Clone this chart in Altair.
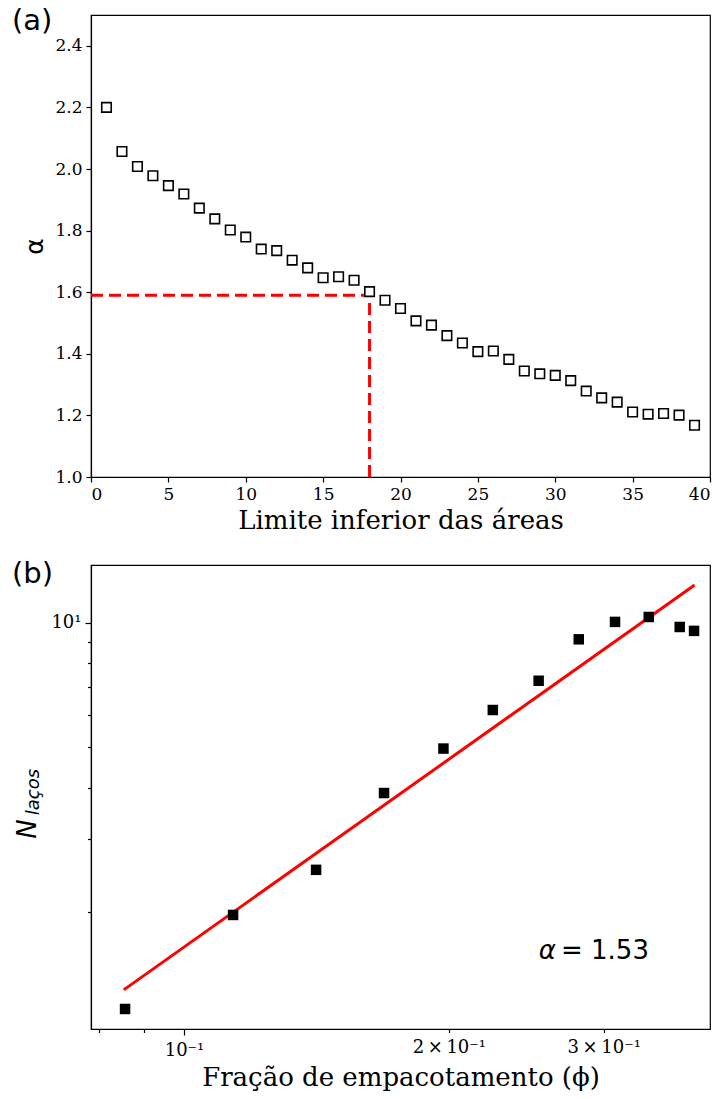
import altair as alt
import pandas as pd

# ---------------- panel (a) data ----------------
lim_inf = list(range(1, 40))
alpha_vals = [2.200, 2.057, 2.008, 1.978, 1.946, 1.919, 1.873, 1.838, 1.802, 1.779,
              1.740, 1.735, 1.704, 1.679, 1.647, 1.650, 1.639, 1.602, 1.574, 1.547,
              1.507, 1.493, 1.459, 1.435, 1.407, 1.409, 1.382, 1.344, 1.335, 1.330,
              1.313, 1.279, 1.257, 1.243, 1.211, 1.204, 1.206, 1.201, 1.168]
cut_x = 18
cut_alpha = 1.59
alpha_min = 1.0
x_ticks_a = [0, 5, 10, 15, 20, 25, 30, 35, 40]
y_ticks_a = [1.0, 1.2, 1.4, 1.6, 1.8, 2.0, 2.2, 2.4]

# ---------------- panel (b) data ----------------
phi = [0.0857, 0.1137, 0.1413, 0.1688, 0.1972, 0.2244, 0.253, 0.281, 0.309, 0.3375, 0.366, 0.380]
n_lacos = [1.166, 1.968, 2.53, 3.88, 4.97, 6.16, 7.25, 9.13, 10.06, 10.34, 9.78, 9.57]
fit_phi = [0.0854, 0.3806]
fit_n = [1.297, 12.36]
x_ticks_b = [0.08, 0.09, 0.1, 0.2, 0.3]
y_ticks_b = [2, 3, 4, 5, 6, 7, 8, 9, 10]

W = 619
HA = 462
HB = 464

df_a = pd.DataFrame({"x": lim_inf, "y": alpha_vals})
df_h = pd.DataFrame({"x": [0], "x2": [cut_x], "y": [cut_alpha]})
df_v = pd.DataFrame({"x": [cut_x], "y": [alpha_min], "y2": [cut_alpha]})

xa = alt.X("x:Q", scale=alt.Scale(domain=[0, 40], nice=False, zero=False),
           axis=alt.Axis(values=x_ticks_a, title="Limite inferior das áreas", format="d",
                         tickSize=5, labelPadding=4, titlePadding=5))
ya = alt.Y("y:Q", scale=alt.Scale(domain=[1.0, 2.5], nice=False, zero=False),
           axis=alt.Axis(values=y_ticks_a, format=".1f", title="α", titleFont="DejaVu Sans",
                         titleFontSize=25, titleAngle=270, titleX=-57, titleY=HA / 2,
                         titleBaseline="middle", titleAlign="center", tickSize=5, labelPadding=4))

rule_style = dict(color="red", strokeWidth=3, strokeDash=[12, 6])
hline = alt.Chart(df_h).mark_rule(**rule_style).encode(x=xa, x2="x2:Q", y=ya)
vline = alt.Chart(df_v).mark_rule(**rule_style).encode(x=xa, y=ya, y2="y2:Q")
pts_a = alt.Chart(df_a).mark_square(size=90, fill="white", stroke="black",
                                    strokeWidth=1.6, opacity=1).encode(x=xa, y=ya)
lab_a = alt.Chart(pd.DataFrame({"t": ["(a)"]})).mark_text(
    font="DejaVu Sans", fontSize=29, align="left", baseline="middle", color="black"
).encode(x=alt.value(-79), y=alt.value(6), text="t:N")

top = alt.layer(hline, vline, pts_a, lab_a).properties(width=W, height=HA)

# ---------------- panel (b) ----------------
df_b = pd.DataFrame({"x": phi, "y": n_lacos})
df_fit = pd.DataFrame({"x": fit_phi, "y": fit_n})

xb = alt.X("x:Q", scale=alt.Scale(type="log", domain=[0.07839, 0.3962], nice=False),
           axis=alt.Axis(values=x_ticks_b, title="Fração de empacotamento (ϕ)",
                         labelExpr="datum.value == 0.1 ? '10⁻¹' : (datum.value == 0.2 ? '2\u2009×\u200910⁻¹' : (datum.value == 0.3 ? '3\u2009×\u200910⁻¹' : ''))",
                         tickSize={"condition": {"test": "datum.value == 0.1", "value": 6}, "value": 3.5},
                         labelFontSize=18, labelPadding=6, titlePadding=5))
yb = alt.Y("y:Q", scale=alt.Scale(type="log", domain=[1.043, 13.81], nice=False),
           axis=alt.Axis(values=y_ticks_b, title=None,
                         labelExpr="datum.value == 10 ? '10¹' : ''",
                         tickSize={"condition": {"test": "datum.value == 10", "value": 6}, "value": 3.5},
                         labelFontSize=18, labelPadding=4))

fit = alt.Chart(df_fit).mark_line(color="red", strokeWidth=3).encode(x=xb, y=yb)
pts_b = alt.Chart(df_b).mark_square(size=110, color="black", opacity=1).encode(x=xb, y=yb)
lab_b = alt.Chart(pd.DataFrame({"t": ["(b)"]})).mark_text(
    font="DejaVu Sans", fontSize=29, align="left", baseline="middle", color="black"
).encode(x=alt.value(-79), y=alt.value(9), text="t:N")
n_main = alt.Chart(pd.DataFrame({"t": ["N"]})).mark_text(
    font="DejaVu Sans", fontSize=26, fontStyle="italic", angle=270, align="center",
    baseline="middle", color="black"
).encode(x=alt.value(-63), y=alt.value(264), text="t:N")
n_sub = alt.Chart(pd.DataFrame({"t": ["laços"]})).mark_text(
    font="DejaVu Sans", fontSize=18, fontStyle="italic", angle=270, align="center",
    baseline="middle", color="black"
).encode(x=alt.value(-57), y=alt.value(227), text="t:N")
ann_a = alt.Chart(pd.DataFrame({"t": ["α"]})).mark_text(
    font="DejaVu Sans", fontSize=26, fontStyle="italic", align="right",
    baseline="middle", color="black"
).encode(x=alt.value(465), y=alt.value(386), text="t:N")
ann_v = alt.Chart(pd.DataFrame({"t": ["= 1.53"]})).mark_text(
    font="DejaVu Sans", fontSize=26, align="left", baseline="middle", color="black"
).encode(x=alt.value(470), y=alt.value(386), text="t:N")

bottom = alt.layer(fit, pts_b, lab_b, n_main, n_sub, ann_a, ann_v).properties(width=W, height=HB)

chart = alt.vconcat(top, bottom, spacing=88, bounds="flush").properties(
    padding={"left": 11, "top": 6, "right": 5, "bottom": 5}
).configure_view(stroke="black", strokeWidth=1.2).configure_axis(
    domainColor="black", tickColor="black", labelColor="black", titleColor="black",
    grid=False, labelFont="DejaVu Serif", labelFontSize=17, titleFont="DejaVu Serif",
    titleFontSize=26, titleFontWeight="normal", domainWidth=1.2, tickWidth=1.2
)

chart.save("out.html", embed_options={"renderer": "svg", "actions": False})
